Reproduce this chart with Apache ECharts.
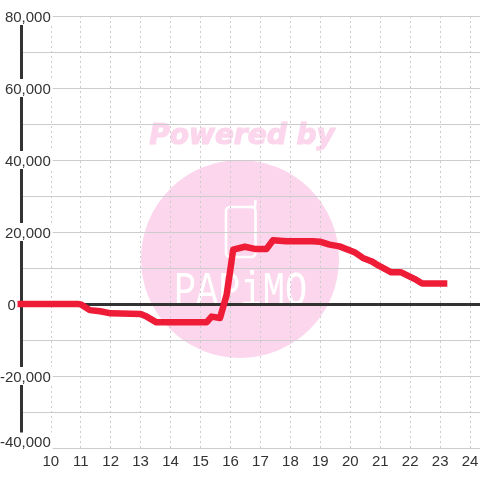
<!DOCTYPE html>
<html><head><meta charset="utf-8">
<style>html,body{margin:0;padding:0;background:#fff}#c{width:480px;height:480px}</style>
<script src="https://cdn.jsdelivr.net/npm/echarts@6/dist/echarts.min.js"></script>
</head><body><div id="c"></div>
<script>
const hours=[9,10.9,11,11.3,11.65,12,13,13.2,13.53,15.2,15.37,15.65,15.87,15.98,16.09,16.48,16.81,17.2,17.42,17.87,18.75,18.98,19.31,19.64,20.14,20.42,20.7,20.98,21.37,21.7,22.14,22.4,23.13];
const values=[0,0,-100,-1700,-2000,-2600,-2800,-3500,-5100,-5100,-3500,-3900,2500,8700,15100,15900,15300,15300,17700,17400,17400,17300,16500,16000,14400,12800,11900,10500,8800,8800,7000,5700,5700];
const xMin=9, xMax=24.33, yMin=-40000, yMax=80000;
const chart=echarts.init(document.getElementById('c'),null,{renderer:'canvas'});
const pts=hours.map((h,i)=>[h,values[i]]);
const lab={color:'#333',fontSize:15,fontFamily:'"Liberation Sans",Arial,sans-serif'};
const tok={color:'#333',fontSize:15,fontFamily:'"Liberation Sans",Arial,sans-serif',backgroundColor:'#fff',lineHeight:13,padding:[3,2,0,0]};
chart.setOption({
 animation:false,
 backgroundColor:'#fff',
 grid:{left:20.8,right:0,top:16,bottom:32,outerBoundsMode:'none',containLabel:false},
 graphic:[
  {type:'circle',z:-10,shape:{cx:240,cy:259,r:99},style:{fill:'#fbd6ec'}},
  {type:'text',z:-10,x:242,y:137,style:{text:'Powered by',fill:'#fbd6ec',stroke:'#fbd6ec',lineWidth:1.2,font:'italic bold 28px "DejaVu Sans",sans-serif',align:'center',verticalAlign:'middle'}},
  {type:'rect',z:-9,shape:{x:226,y:207,width:29.5,height:50,r:4},style:{fill:'none',stroke:'#fff',lineWidth:2.6}},
  {type:'polyline',z:-9,shape:{points:[[250,207],[255,207],[255.5,201]]},style:{fill:'none',stroke:'#fff',lineWidth:2.6,lineCap:'round'}},
  {type:'text',z:-9,x:240.5,y:292,scaleY:1.3,style:{text:'PAPiMO',fill:'#fff',font:'37px "Liberation Mono",monospace',align:'center',verticalAlign:'middle'}}
 ],
 xAxis:[{type:'value',min:xMin,max:xMax,interval:1,position:'bottom',z:1,
   axisLine:{show:true,onZero:false,lineStyle:{color:'#ccc',width:1}},axisTick:{show:false},
   axisLabel:Object.assign({},lab,{margin:6,showMinLabel:false,showMaxLabel:false,hideOverlap:false,formatter:v=>String(v)}),
   splitLine:{show:true,lineStyle:{color:'#ccc',type:[2,3],width:1}}},
  {type:'value',min:xMin,max:xMax,position:'top',z:4,
   axisLine:{show:true,onZero:true,onZeroAxisIndex:0,lineStyle:{color:'#333',width:3}},axisTick:{show:false},axisLabel:{show:false},splitLine:{show:false}}],
 yAxis:[{type:'value',min:yMin,max:yMax,interval:20000,position:'left',z:1,
   axisLine:{show:false},axisTick:{show:false},axisLabel:{show:false},
   splitLine:{show:true,lineStyle:{color:'#ccc',width:1}},
   minorTick:{show:false,splitNumber:2},minorSplitLine:{show:true,lineStyle:{color:'#ccc',width:1}}},
  {type:'value',min:yMin,max:yMax,interval:20000,position:'left',z:5,
   axisLine:{show:true,onZero:false,lineStyle:{color:'#333',width:3}},axisTick:{show:false},splitLine:{show:false},
   axisLabel:Object.assign({},lab,{margin:-32,align:'right',verticalAlignMinLabel:'bottom',
     formatter:v=>v===0?'{a|0}{s| }':'{a|'+v.toLocaleString('en-US')+'}',
     rich:{a:tok,s:{width:35,fontSize:15,lineHeight:13}}})}],
 series:[{type:'line',data:pts,symbol:'none',smooth:false,clip:false,z:10,
   lineStyle:{color:'#ee1c36',width:6.5,cap:'square',join:'round'}}]
});
</script></body></html>
